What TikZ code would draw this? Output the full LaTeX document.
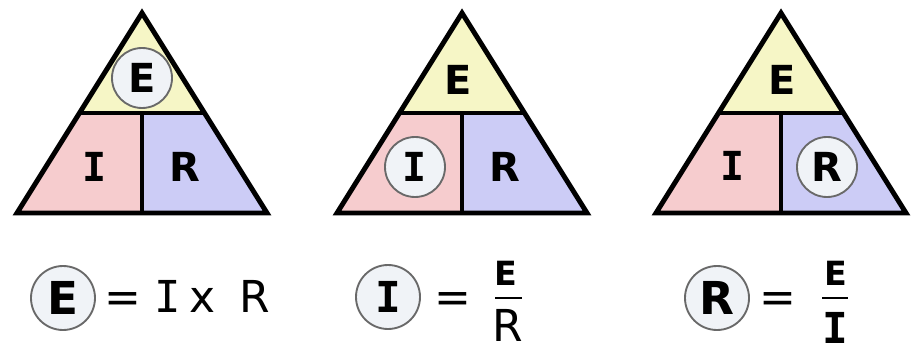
\documentclass[tikz,border=0pt]{standalone}
\usepackage{fontspec}
\setmainfont{DejaVu Sans}
\newfontfamily\monofont{DejaVu Sans Mono}
\usetikzlibrary{positioning}
\definecolor{topyellow}{RGB}{246,246,198}
\definecolor{leftpink}{RGB}{246,204,206}
\definecolor{rightblue}{RGB}{204,204,246}
\definecolor{ringgray}{RGB}{105,105,105}
\definecolor{ringfill}{RGB}{240,243,247}
\newcommand{\slabI}{{\monofont I}}

\begin{document}
\begin{tikzpicture}[x=0.75pt, y=-0.75pt,
    letter/.style={font=\fontsize{30}{30}\bfseries\selectfont, inner sep=0pt},
    ring/.style={circle, draw=ringgray, line width=1.4pt, fill=ringfill, minimum size=45pt},
    bigring/.style={ring, minimum size=48pt},
    eqtext/.style={font=\fontsize{33}{33}\selectfont, inner sep=0pt, anchor=base},
    numer/.style={font=\fontsize{25}{25}\bfseries\selectfont, inner sep=0pt},
    edge/.style={line width=3.7pt}]
    \useasboundingbox (0,0) rectangle (913,360);

    % Triangles
    \foreach \ax in {142,462,781} {
        \fill[topyellow] (\ax,13) -- (\ax-62.5,113) -- (\ax+62.5,113) -- cycle;
        \fill[leftpink] (\ax-62.5,113) -- (\ax,113) -- (\ax,213) -- (\ax-125,213) -- cycle;
        \fill[rightblue] (\ax,113) -- (\ax+62.5,113) -- (\ax+125,213) -- (\ax,213) -- cycle;
        \draw[edge, line join=miter] (\ax,13) -- (\ax-125,213) -- (\ax+125,213) -- cycle;
        \draw[edge] (\ax-62.5,113) -- (\ax+62.5,113);
        \draw[edge] (\ax,113) -- (\ax,213);
    }

    % Letters, first triangle
    \node[letter, ring] (e1) at (142,78) {E};
    \node[letter] (i1) at (95,167) {\slabI};
    \node[letter] (r1) at (185,167) {R};

    % Letters, second triangle
    \node[letter] (e2) at (458,80) {E};
    \node[letter, ring] (i2) at (415,167) {\slabI};
    \node[letter] (r2) at (505,167) {R};

    % Letters, third triangle
    \node[letter] (e3) at (782,80) {E};
    \node[letter] (i3) at (733,166) {\slabI};
    \node[letter, ring] (r3) at (827,167) {R};

    % E = I x R
    \node[letter, bigring, font=\fontsize{34}{34}\bfseries\selectfont] (qe) at (63,298) {E};
    \node[eqtext] (eq1) at (123,312) {=};
    \node[eqtext] (qi1) at (168,312) {\slabI};
    \node[eqtext] (qx1) at (203,312) {x};
    \node[eqtext] (qr1) at (255,312) {R};

    % I = E / R
    \node[letter, bigring, font=\fontsize{32}{32}\bfseries\selectfont] (qi) at (388,297) {\slabI};
    \node[eqtext] (eq2) at (453,312) {=};
    \node[numer] (ne2) at (506,273) {E};
    \coordinate (b2l) at (495,298);
    \coordinate (b2r) at (522,298);
    \draw[line width=1.5pt] (b2l) -- (b2r);
    \node[inner sep=0pt, font=\fontsize{33}{33}\selectfont] (dr2) at (508,325) {R};

    % R = E / I
    \node[letter, bigring, font=\fontsize{34}{34}\bfseries\selectfont] (qr) at (717,298) {R};
    \node[eqtext] (eq3) at (778,312) {=};
    \node[numer] (ne3) at (836,273) {E};
    \coordinate (b3l) at (822,298);
    \coordinate (b3r) at (848,298);
    \draw[line width=1.5pt] (b3l) -- (b3r);
    \node[inner sep=0pt, font=\fontsize{32}{32}\bfseries\selectfont] (di3) at (835,328) {\slabI};
\end{tikzpicture}
\end{document}
